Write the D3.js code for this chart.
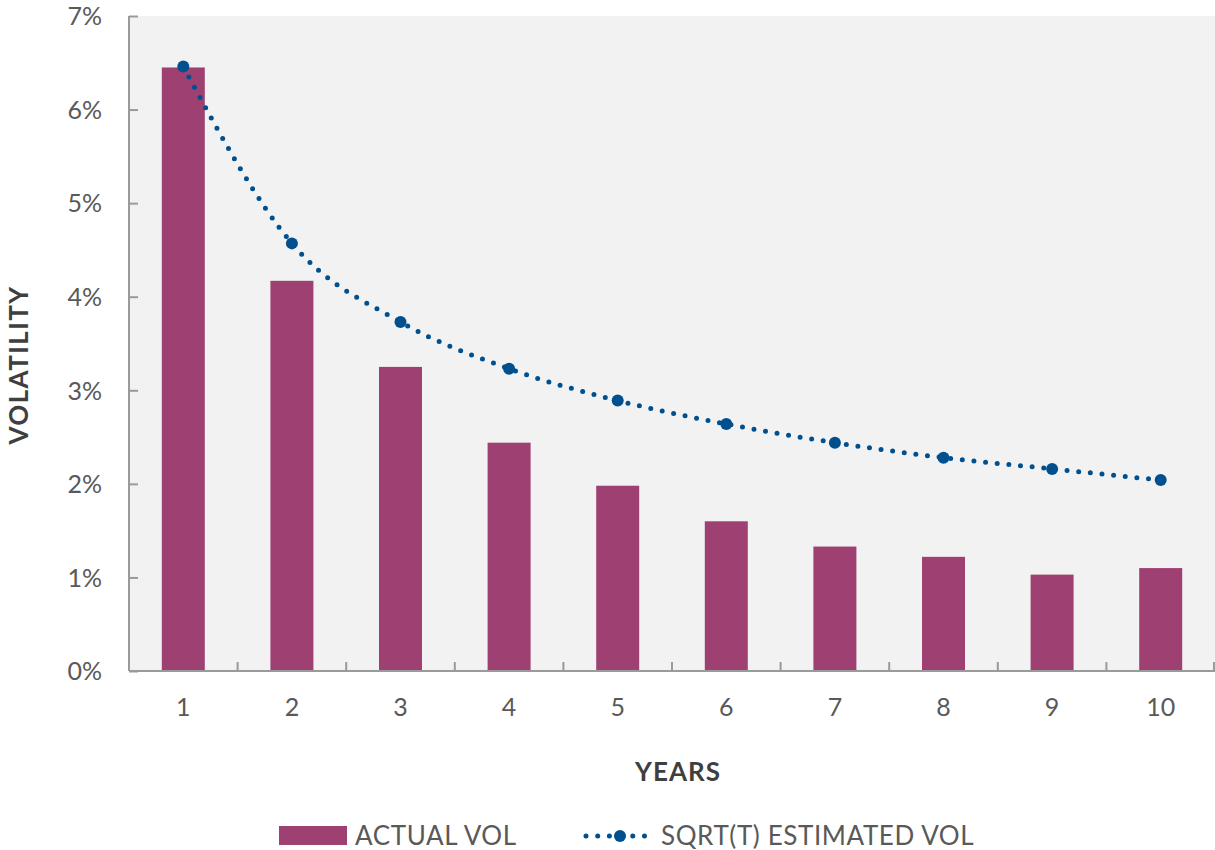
<!DOCTYPE html>
<html>
<head>
<meta charset="utf-8">
<script src="https://cdn.jsdelivr.net/npm/d3@7"></script>
<style>
  body { margin: 0; background: #fff; }
  svg text { font-family: Lato, "Open Sans", sans-serif; }
</style>
</head>
<body>
<svg id="chart" width="1215" height="850"></svg>
<script>
// Horizon in years
const years = [1, 2, 3, 4, 5, 6, 7, 8, 9, 10];
// Realised volatility per horizon (%)
const actualVol = [6.45, 4.17, 3.25, 2.44, 1.98, 1.60, 1.33, 1.22, 1.03, 1.10];
// Square-root-of-time estimate (%)
const sqrtVol = [6.46, 4.57, 3.73, 3.23, 2.89, 2.64, 2.44, 2.28, 2.16, 2.04];
const yTicks = [0, 1, 2, 3, 4, 5, 6, 7];

const svg = d3.select("#chart");
const m = { left: 129, right: 1215, top: 16, bottom: 671 };

const xStep = d3.scaleBand().domain(years).range([m.left, m.right]);
const y = d3.scaleLinear().domain([0, 7]).range([m.bottom, m.top]);

const barColor = "#9e4172";
const lineColor = "#00508f";
const axisColor = "#9a9a9a";
const textColor = "#595959";
const barWidth = 43;

// plot background
svg.append("rect")
  .attr("x", m.left).attr("y", m.top)
  .attr("width", m.right - m.left).attr("height", m.bottom - m.top)
  .attr("fill", "#f2f2f2");

// bars
svg.append("g").selectAll("rect")
  .data(years)
  .join("rect")
  .attr("x", d => xStep(d) + xStep.bandwidth() / 2 - barWidth / 2)
  .attr("width", barWidth)
  .attr("y", (d, i) => y(actualVol[i]))
  .attr("height", (d, i) => y(0) - y(actualVol[i]))
  .attr("fill", barColor);

// y axis
const yAxis = d3.axisLeft(y).tickValues(yTicks).tickSize(-9).tickPadding(0)
  .tickFormat(d => d + "%");
const gy = svg.append("g").attr("transform", `translate(${m.left},0)`).call(yAxis);
gy.select(".domain").attr("stroke", axisColor).attr("stroke-width", 2).attr("d", `M0,${m.top}V${m.bottom}`);
gy.selectAll(".tick line").attr("stroke", axisColor).attr("stroke-width", 2);
gy.selectAll(".tick text")
  .attr("x", -27).attr("dy", "0.35em")
  .attr("fill", textColor).attr("font-size", 25).attr("text-anchor", "end");

// x axis
const xAxis = d3.axisBottom(xStep).tickSize(0).tickPadding(0);
const gx = svg.append("g").attr("transform", `translate(0,${m.bottom})`).call(xAxis);
gx.select(".domain").attr("stroke", axisColor).attr("stroke-width", 2).attr("d", `M${m.left},0H${m.right}`);
gx.selectAll(".tick text")
  .attr("y", 36).attr("dy", "0.35em")
  .attr("fill", textColor).attr("font-size", 25);
// boundary tick marks between categories
svg.append("g").selectAll("line")
  .data(years.slice(1).concat([null]))
  .join("line")
  .attr("x1", d => d === null ? m.right - 1 : xStep(d))
  .attr("x2", d => d === null ? m.right - 1 : xStep(d))
  .attr("y1", m.bottom).attr("y2", m.bottom - 9)
  .attr("stroke", axisColor).attr("stroke-width", 2);

// sqrt(T) curve
const pts = years.map((d, i) => [xStep(d) + xStep.bandwidth() / 2, y(sqrtVol[i])]);
const line = d3.line().curve(d3.curveMonotoneX);
svg.append("path")
  .attr("d", line(pts))
  .attr("fill", "none")
  .attr("stroke", lineColor)
  .attr("stroke-width", 5)
  .attr("stroke-linecap", "round")
  .attr("stroke-dasharray", "0 11.7");
svg.append("g").selectAll("circle")
  .data(pts)
  .join("circle")
  .attr("cx", d => d[0]).attr("cy", d => d[1])
  .attr("r", 6)
  .attr("fill", lineColor);

// axis titles
svg.append("text")
  .attr("transform", `translate(28,365) rotate(-90)`)
  .attr("text-anchor", "middle")
  .attr("font-size", 26).attr("font-weight", "bold").attr("fill", "#3f3f3f")
  .attr("letter-spacing", 1.4)
  .text("VOLATILITY");
svg.append("text")
  .attr("x", 678).attr("y", 781)
  .attr("text-anchor", "middle")
  .attr("font-size", 26).attr("font-weight", "bold").attr("fill", "#3f3f3f")
  .attr("letter-spacing", 1)
  .text("YEARS");

// legend
const lg = svg.append("g");
lg.append("rect").attr("x", 279).attr("y", 826).attr("width", 68).attr("height", 19).attr("fill", barColor);
lg.append("text").attr("x", 355).attr("y", 845).attr("font-size", 26).attr("letter-spacing", 0.6)
  .attr("fill", textColor).text("ACTUAL VOL");
lg.append("path")
  .attr("d", "M586,836H647")
  .attr("stroke", lineColor).attr("stroke-width", 5)
  .attr("stroke-linecap", "round").attr("stroke-dasharray", "0 11.7");
lg.append("circle").attr("cx", 620).attr("cy", 836).attr("r", 6).attr("fill", lineColor);
lg.append("text").attr("x", 661).attr("y", 845).attr("font-size", 26).attr("letter-spacing", 0.6)
  .attr("fill", textColor).text("SQRT(T) ESTIMATED VOL");
</script>
</body>
</html>
